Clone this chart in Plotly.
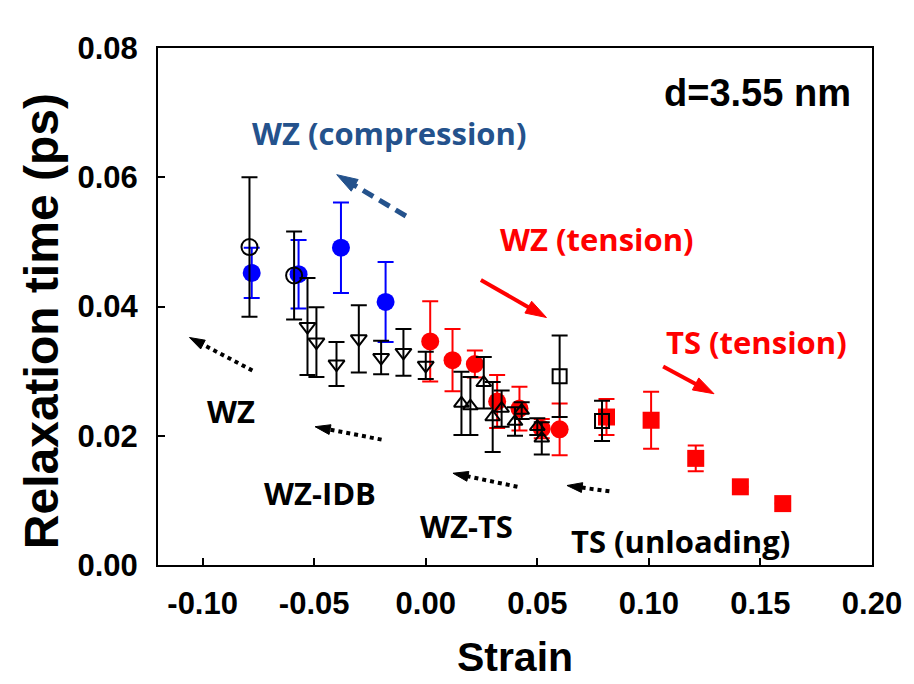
import plotly.graph_objects as go

# ---------------- data ----------------
# WZ (compression) - blue filled circles
wzc_x = [-0.078, -0.057, -0.038, -0.018]
wzc_y = [0.0452, 0.0450, 0.0491, 0.0407]
wzc_e = [0.0039, 0.0053, 0.0070, 0.0062]

# WZ (tension) - red filled circles
wzt_x = [0.002, 0.012, 0.022, 0.032, 0.042, 0.052, 0.060]
wzt_y = [0.0346, 0.0317, 0.0311, 0.0253, 0.0242, 0.0211, 0.0210]
wzt_e = [0.0062, 0.0048, 0.0021, 0.0041, 0.0034, 0.0015, 0.0040]

# TS (tension) - red filled squares
tst_x = [0.081, 0.101, 0.121, 0.141, 0.160]
tst_y = [0.0229, 0.0224, 0.0165, 0.0121, 0.0095]
tst_e = [0.0028, 0.0044, 0.0020, 0.0, 0.0]

# WZ (unloading) - open circles
wz_x = [-0.079, -0.059]
wz_y = [0.0492, 0.0448]
wz_e = [0.0108, 0.0068]

# WZ-IDB (unloading) - open down triangles
idb_x = [-0.053, -0.049, -0.040, -0.030, -0.020, -0.010, 0.000]
idb_y = [0.0369, 0.0345, 0.0311, 0.0350, 0.0321, 0.0329, 0.0309]
idb_e = [0.0075, 0.0054, 0.0034, 0.0052, 0.0026, 0.0036, 0.0021]

# WZ-TS (unloading) - open up triangles
wts_x = [0.016, 0.020, 0.026, 0.030, 0.034, 0.040, 0.043, 0.050, 0.052]
wts_y = [0.0250, 0.0246, 0.0282, 0.0229, 0.0242, 0.0222, 0.0239, 0.0214, 0.0196]
wts_e = [0.0049, 0.0045, 0.0040, 0.0054, 0.0028, 0.0022, 0.0013, 0.0013, 0.0025]

# TS (unloading) - open squares
tsu_x = [0.060, 0.079]
tsu_y = [0.0292, 0.0223]
tsu_e = [0.0063, 0.0031]

x_ticks = [-0.10, -0.05, 0.00, 0.05, 0.10, 0.15, 0.20]
y_ticks = [0.00, 0.02, 0.04, 0.06, 0.08]

RED = "#FF0000"
BLUE = "#0000FF"
NAVY = "#24528C"

fig = go.Figure()


def add_series(x, y, e, symbol, size, color, filled):
    if filled:
        marker = dict(symbol=symbol, size=size, color=color, line=dict(width=0))
    else:
        marker = dict(symbol=symbol + "-open", size=size, color="black",
                      line=dict(width=2, color="black"))
    fig.add_trace(go.Scatter(
        x=x, y=y, mode="markers", marker=marker, showlegend=False,
        error_y=dict(type="data", array=e, visible=True,
                     color=color if filled else "black", thickness=2, width=8),
    ))


add_series(wzt_x, wzt_y, wzt_e, "circle", 18, RED, True)
add_series(tst_x, tst_y, tst_e, "square", 17, RED, True)
add_series(wzc_x, wzc_y, wzc_e, "circle", 18, BLUE, True)
add_series(wz_x, wz_y, wz_e, "circle", 16, "black", False)
add_series(idb_x, idb_y, idb_e, "triangle-down", 14, "black", False)
add_series(wts_x, wts_y, wts_e, "triangle-up", 13, "black", False)
add_series(tsu_x, tsu_y, tsu_e, "square", 14, "black", False)


# arrows: (tail_x, tail_y, head_x, head_y, color, dash, width, headsize)
arrows = [
    (-0.0089, 0.0540, -0.0399, 0.0604, NAVY, "12px,7px", 5, 22),
    (0.0247, 0.0441, 0.0541, 0.0383, RED, "solid", 4, 22),
    (0.1064, 0.0307, 0.1292, 0.0265, RED, "solid", 4, 22),
    (-0.0777, 0.0301, -0.1059, 0.0352, "black", "dot", 4, 16),
    (-0.0198, 0.0194, -0.0496, 0.0214, "black", "dot", 4, 16),
    (0.0411, 0.0121, 0.0122, 0.0142, "black", "dot", 4, 16),
    (0.0823, 0.0114, 0.0633, 0.0123, "black", "dot", 4, 16),
]
for tx, ty, hx, hy, col, dash, w, hs in arrows:
    fig.add_trace(go.Scatter(
        x=[tx, hx], y=[ty, hy], mode="lines+markers", showlegend=False,
        line=dict(color=col, dash=dash, width=w),
        marker=dict(symbol=["circle", "arrow"], size=[0, hs], color=col,
                    opacity=1, angleref="previous", line=dict(width=1, color=col)),
        hoverinfo="skip",
    ))

lab_font = "Open Sans"
LS = 31
annotations = [
    dict(x=0.1913, y=0.0731, text="d=3.55 nm", xanchor="right",
         font=dict(family="Liberation Sans", size=38, color="black")),
    dict(x=-0.0789, y=0.0669, text="WZ (compression)", xanchor="left",
         font=dict(family=lab_font, size=LS, color=NAVY)),
    dict(x=0.0322, y=0.0504, text="WZ (tension)", xanchor="left",
         font=dict(family=lab_font, size=LS, color=RED)),
    dict(x=0.1069, y=0.0345, text="TS (tension)", xanchor="left",
         font=dict(family=lab_font, size=LS, color=RED)),
    dict(x=-0.0989, y=0.0239, text="WZ", xanchor="left",
         font=dict(family=lab_font, size=LS, color="black")),
    dict(x=-0.0736, y=0.0111, text="WZ-IDB", xanchor="left",
         font=dict(family=lab_font, size=LS, color="black")),
    dict(x=-0.0033, y=0.0061, text="WZ-TS", xanchor="left",
         font=dict(family=lab_font, size=LS, color="black")),
    dict(x=0.0642, y=0.0037, text="TS (unloading)", xanchor="left",
         font=dict(family=lab_font, size=LS, color="black")),
]
for a in annotations:
    a.update(xref="x", yref="y", showarrow=False, yanchor="middle")
    a["text"] = "<b>" + a["text"] + "</b>"

# y-axis title as a rotated annotation (placed slightly below the axis middle)
annotations.append(dict(
    xref="paper", yref="y", x=(40 - 157.5) / 720, y=0.0378,
    text="<b>Relaxation time (ps)</b>", textangle=-90, showarrow=False,
    xanchor="center", yanchor="middle",
    font=dict(family="Liberation Sans", size=48, color="black"),
))

fig.update_layout(
    width=914, height=684,
    margin=dict(l=157.5, r=36.5, t=48.3, b=117.3),
    plot_bgcolor="white", paper_bgcolor="white",
    annotations=annotations,
    xaxis=dict(
        range=[-0.12, 0.20], tickvals=x_ticks,
        ticktext=["<b>%.2f</b>" % v for v in x_ticks],
        ticks="inside", ticklen=7, tickwidth=1.5, tickcolor="black",
        showline=True, linecolor="black", linewidth=2, mirror=True,
        showgrid=False, zeroline=False, ticklabelstandoff=10,
        tickfont=dict(family="Liberation Sans", size=31, color="black"),
        title=dict(text="<b>Strain</b>", standoff=22,
                   font=dict(family="Liberation Sans", size=41, color="black")),
    ),
    yaxis=dict(
        range=[0, 0.08], tickvals=y_ticks,
        ticktext=["<b>%.2f</b>" % v for v in y_ticks],
        ticks="inside", ticklen=7, tickwidth=1.5, tickcolor="black",
        showline=True, linecolor="black", linewidth=2, mirror=True,
        showgrid=False, zeroline=False, ticklabelstandoff=12,
        tickfont=dict(family="Liberation Sans", size=31, color="black"),
    ),
)

fig.write_html("out.html")
